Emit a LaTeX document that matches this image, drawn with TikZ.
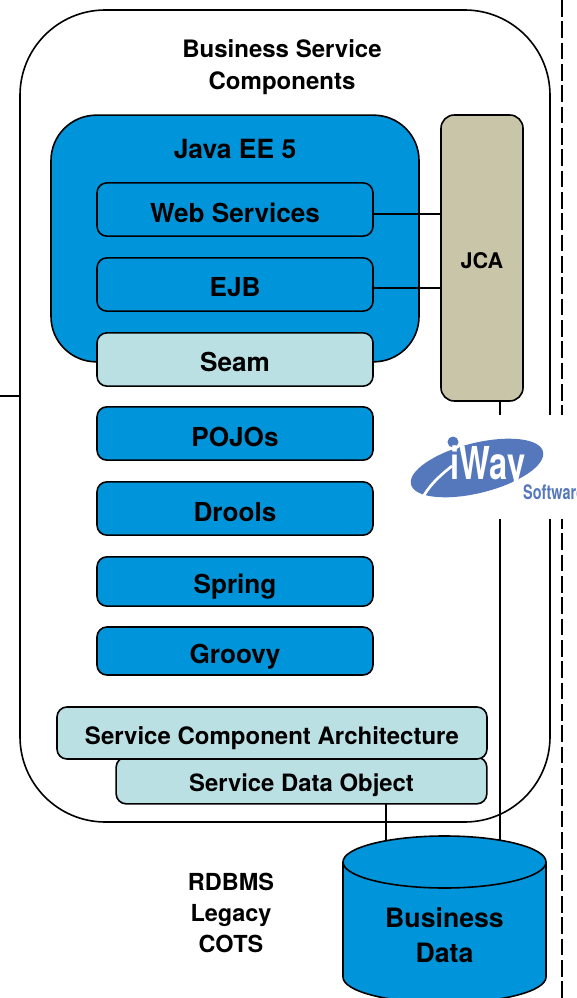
\documentclass[tikz,border=0pt]{standalone}
\usepackage{fontspec}
\setmainfont{TeX Gyre Heros}
\usetikzlibrary{calc}
\definecolor{bluefill}{HTML}{0095DA}
\definecolor{palefill}{HTML}{BBE0E3}
\definecolor{jcafill}{HTML}{C8C5A9}
\definecolor{logoblue}{HTML}{5578BC}
\newcommand{\dn}[2]{\raisebox{-#1}[0pt][0pt]{#2}}
\tikzset{
  x=0.75pt,y=-0.75pt,
  every node/.style={font=\bfseries},
  box/.style={draw=black,line width=1.2pt,rounded corners=7.5pt,inner sep=0pt,align=center},
  bluebox/.style={box,fill=bluefill,minimum width=207pt,font=\fontsize{19.6}{22}\selectfont\bfseries},
  palebox/.style={box,fill=palefill},
  wire/.style={draw=black,line width=1.2pt},
  lbl/.style={inner sep=0pt,align=center},
}
\begin{document}
\begin{tikzpicture}
\useasboundingbox (0,0) rectangle (576,998);
\clip (0,0) rectangle (576,998);
\fill[white] (0,0) rectangle (576,998);
% page border and outer connector
\coordinate (dashtop) at (562,0);
\coordinate (dashbot) at (562,998);
\draw[line width=2.2pt,dash pattern=on 12.5pt off 3.5pt] (dashtop) -- (dashbot);
% outer container
\node[draw=black,line width=1.2pt,rounded corners=64pt,minimum width=397.5pt,minimum height=609pt,inner sep=0pt] (outer) at (285,416) {};
\coordinate (leftstub) at (0,396);
\draw[wire] (leftstub) -- (leftstub -| outer.west);
\node[lbl,font=\fontsize{18}{24}\selectfont\bfseries] (title) at (282,67) {Business Service\\Components};
% Java EE
\node[box,rounded corners=34pt,fill=bluefill,minimum width=276pt,minimum height=185pt] (javaee) at (235,238.5) {};
\node[lbl,font=\fontsize{19.8}{22}\selectfont\bfseries] (javalbl) at (235,149) {Java EE 5};
\node[bluebox,minimum height=40pt] (ws) at (235,209.5) {\dn{9.4pt}{Web Services}};
\node[bluebox,minimum height=40pt] (ejb) at (235,284.5) {\dn{8.8pt}{EJB}};
\node[palebox,minimum width=207pt,minimum height=40pt,font=\fontsize{19.6}{22}\selectfont\bfseries] (seam) at (235,359.5) {\dn{8.8pt}{Seam}};
\node[bluebox,minimum height=40pt] (pojos) at (235,433.5) {\dn{9.6pt}{POJOs}};
\node[bluebox,minimum height=40pt] (drools) at (235,508.5) {\dn{9.6pt}{Drools}};
\node[bluebox,minimum height=37pt] (spring) at (235,581.5) {\dn{8.8pt}{Spring}};
\node[bluebox,minimum height=36pt] (groovy) at (235,651) {\dn{9.2pt}{Groovy}};
% JCA
\node[box,rounded corners=10pt,fill=jcafill,minimum width=61.5pt,minimum height=214.5pt,font=\fontsize{16.2}{18}\selectfont\bfseries] (jca) at (482,258) {\dn{8.1pt}{JCA}};
\draw[wire] ([yshift=-3.4pt]ws.east) -- ([yshift=-3.4pt]ws.east -| jca.west);
\draw[wire] ([yshift=-2.6pt]ejb.east) -- ([yshift=-2.6pt]ejb.east -| jca.west);
% SDO, SCA
\node[palebox,minimum width=278pt,minimum height=35pt,font=\fontsize{17.9}{20}\selectfont\bfseries] (sdo) at (301.5,780.5) {\dn{7.9pt}{Service Data Object}};
\node[palebox,minimum width=322.5pt,minimum height=39pt,font=\fontsize{18}{20}\selectfont\bfseries] (sca) at (272,733) {\dn{8.25pt}{Service Component Architecture}};
% database
\coordinate (sdoout) at (386,804);
\coordinate (jcaout) at (500,401);
\coordinate (sdoin) at (386,845);
\coordinate (jcain) at (500,842);
\draw[wire] (sdoout) -- (sdoin);
\draw[wire] (jcaout) -- (jcain);
\draw[wire,fill=bluefill] (343,862) arc[start angle=180,end angle=0,x radius=101.5,y radius=-26] -- (546,977) arc[start angle=0,end angle=180,x radius=101.5,y radius=26] -- cycle;
\draw[wire] (343,862) arc[start angle=180,end angle=360,x radius=101.5,y radius=-26];
\node[lbl,font=\fontsize{20}{26}\selectfont\bfseries] (dbl) at (444.5,935) {Business\\Data};
\node[lbl,font=\fontsize{17.6}{23.5}\selectfont\bfseries] (kinds) at (231,913) {RDBMS\\Legacy\\COTS};
% logo
\node[fill=white,minimum width=130pt,minimum height=78pt,inner sep=0pt] (logo) at (489.5,466.5) {};
\fill[logoblue,rotate around={14:(477,468)}] (477,468) ellipse[x radius=68,y radius=25];
\draw[white,line width=2pt] (452,466) .. controls (438,477) and (428,487) .. (422,499);
\fill[white] (453,442) circle[radius=8];
\fill[logoblue] (453,442) circle[radius=5.5];
\node[text=white,inner sep=0pt,font=\fontsize{34}{34}\selectfont\bfseries,xscale=0.72] (iway) at (488,468) {iWay};
\node[text=logoblue,anchor=west,inner sep=0pt,font=\fontsize{15}{15}\selectfont\bfseries,xscale=0.72] (soft) at (523,492) {Software};
\end{tikzpicture}
\end{document}
